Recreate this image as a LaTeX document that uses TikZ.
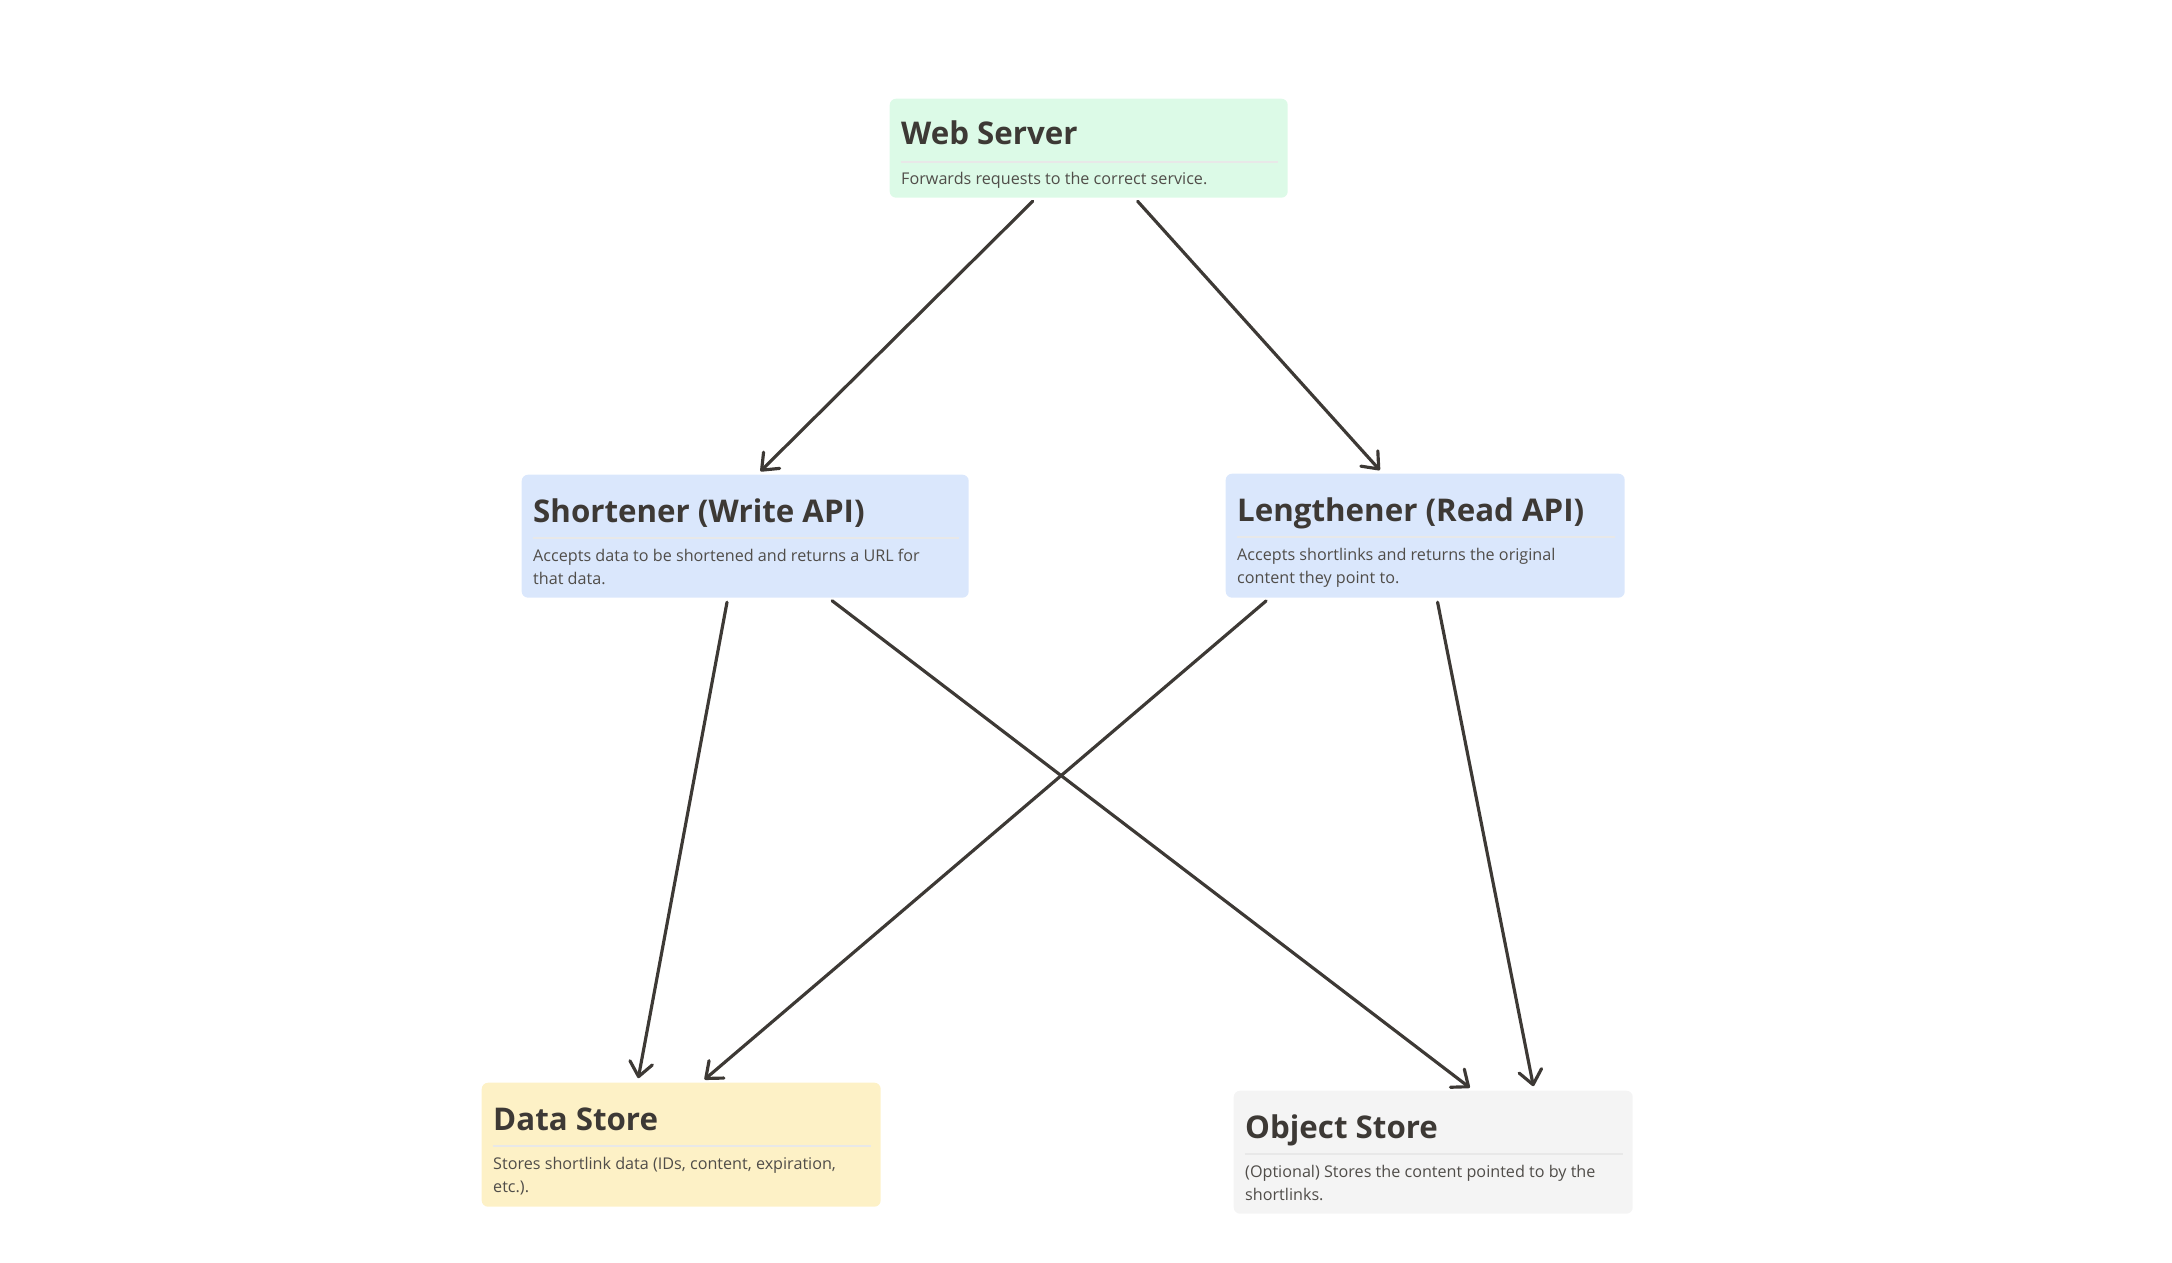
\documentclass[tikz,border=0pt]{standalone}
\usepackage{fontspec}
\setmainfont{Open Sans}
\usetikzlibrary{arrows.meta,calc}
\definecolor{ink}{HTML}{3D3935}
\definecolor{webfill}{HTML}{DCFAE7}
\definecolor{apifill}{HTML}{DAE7FC}
\definecolor{datafill}{HTML}{FDF1C6}
\definecolor{objfill}{HTML}{F4F4F4}
\begin{document}
\begin{tikzpicture}[
	box/.style={rectangle, rounded corners=1.8pt, anchor=north west, inner sep=0pt, minimum width=3.99cm, minimum height=1.24cm},
	ttl/.style={anchor=base west, inner sep=0pt, font=\bfseries\fontsize{8.9}{10}\selectfont, text=ink},
	dsc/.style={anchor=base west, inner sep=0pt, align=left, font=\fontsize{4.6}{6.5}\selectfont, text=ink!90},
	sepline/.style={draw=black!9, line width=0.45pt},
	link/.style={draw=ink, line width=0.9pt, line cap=round, -{Straight Barb[length=4pt,width=6.5pt,round]}, shorten <=1.1pt, shorten >=1.1pt}
]
\useasboundingbox (0,0) rectangle (21.72,-12.62);

% boxes
\node[box, fill=webfill, minimum width=3.98cm, minimum height=0.99cm] (web) at (8.89,-0.98) {};
\node[box, fill=apifill, minimum width=4.47cm, minimum height=1.23cm] (short) at (5.21,-4.74) {};
\node[box, fill=apifill] (long) at (12.25,-4.73) {};
\node[box, fill=datafill] (data) at (4.81,-10.82) {};
\node[box, fill=objfill, minimum height=1.23cm] (obj) at (12.33,-10.90) {};

% titles
\node[ttl] (webT) at ($(web.north west)+(0.115,-0.47)$) {Web Server};
\node[ttl] (shortT) at ($(short.north west)+(0.115,-0.48)$) {Shortener (Write API)};
\node[ttl] (longT) at ($(long.north west)+(0.115,-0.48)$) {Lengthener (Read API)};
\node[ttl] (dataT) at ($(data.north west)+(0.115,-0.48)$) {Data Store};
\node[ttl] (objT) at ($(obj.north west)+(0.115,-0.48)$) {Object Store};

% separators
\foreach \b in {web,short,long,data,obj}
	\draw[sepline] ($(\b.north west)+(0.115,-0.64)$) -- ($(\b.north east)+(-0.10,-0.64)$);

% descriptions (base = last line)
\node[dsc] (webD) at ($(web.north west)+(0.115,-0.87)$) {Forwards requests to the correct service.};
\node[dsc] (shortD) at ($(short.north west)+(0.115,-1.10)$) {Accepts data to be shortened and returns a URL for\\that data.};
\node[dsc] (longD) at ($(long.north west)+(0.115,-1.10)$) {Accepts shortlinks and returns the original\\content they point to.};
\node[dsc] (dataD) at ($(data.north west)+(0.115,-1.10)$) {Stores shortlink data (IDs, content, expiration,\\etc.).};
\node[dsc] (objD) at ($(obj.north west)+(0.115,-1.10)$) {(Optional) Stores the content pointed to by the\\shortlinks.};

% arrows
\draw[link] ($(web.south west)!0.367!(web.south east)$) -- ($(short.north west)!0.528!(short.north east)$);
\draw[link] ($(web.south west)!0.616!(web.south east)$) -- ($(long.north west)!0.393!(long.north east)$);
\draw[link] ($(short.south west)!0.461!(short.south east)$) -- ($(data.north west)!0.391!(data.north east)$);
\draw[link] ($(short.south west)!0.687!(short.south east)$) -- ($(obj.north west)!0.599!(obj.north east)$);
\draw[link] ($(long.south west)!0.110!(long.south east)$) -- ($(data.north west)!0.551!(data.north east)$);
\draw[link] ($(long.south west)!0.529!(long.south east)$) -- ($(obj.north west)!0.752!(obj.north east)$);

\end{tikzpicture}
\end{document}
